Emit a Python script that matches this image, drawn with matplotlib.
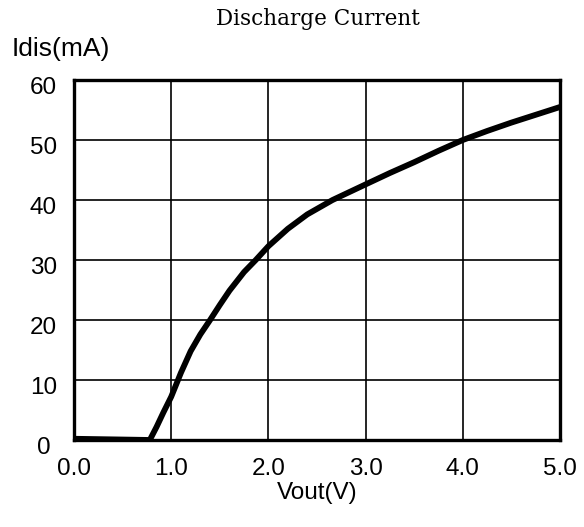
import numpy as np
import matplotlib
matplotlib.use("Agg")
import matplotlib.pyplot as plt
from matplotlib.transforms import ScaledTranslation

# discharge current vs output voltage
vout = [0.0, 0.4, 0.78, 0.85, 0.92, 1.0, 1.06, 1.1, 1.2, 1.3, 1.4, 1.5, 1.6,
        1.75, 1.87, 2.0, 2.2, 2.4, 2.66, 3.0, 3.25, 3.5, 3.75, 4.0, 4.25, 4.5, 4.75, 5.0]
idis = [0.2, 0.1, 0.0, 2.2, 4.6, 7.2, 9.6, 11.2, 14.8, 17.6, 20.0, 22.5, 24.9,
        28.0, 30.0, 32.3, 35.2, 37.6, 40.0, 42.6, 44.5, 46.3, 48.2, 50.0, 51.5, 52.9, 54.2, 55.5]

x_ticks = [0, 1, 2, 3, 4, 5]
x_labels = ["0.0", "1.0", "2.0", "3.0", "4.0", "5.0"]
y_ticks = [0, 10, 20, 30, 40, 50, 60]
y_labels = ["0", "10", "20", "30", "40", "50", "60"]

fig = plt.figure(figsize=(5.84, 5.27), dpi=100)
ax = fig.add_axes([0.1267, 0.1651, 0.8322, 0.6831])

ax.plot(vout, idis, color="black", lw=4.2, solid_capstyle="butt",
        solid_joinstyle="round", zorder=3)

ax.set_xlim(0, 5)
ax.set_ylim(0, 60)
ax.set_xticks(x_ticks)
ax.set_xticklabels(x_labels, fontsize=17.5, family="Liberation Sans")
ax.set_yticks(y_ticks)
ax.set_yticklabels(y_labels, fontsize=17.5, family="Liberation Sans", ha="center")
ax.tick_params(axis="both", length=0)
ax.tick_params(axis="x", pad=13)
ax.tick_params(axis="y", pad=22)

# push the y labels a bit below their grid lines
shift = ScaledTranslation(0, -6 / 100, fig.dpi_scale_trans)
for lbl in ax.get_yticklabels():
    lbl.set_transform(lbl.get_transform() + shift)

ax.grid(True, color="black", lw=1.2)
for s in ax.spines.values():
    s.set_linewidth(2.4)
    s.set_color("black")

fig.text(318 / 584, 1 - 19 / 527, "Discharge Current", ha="center", va="center",
         fontsize=15.5, family="DejaVu Serif")
fig.text(12 / 584, 1 - 49 / 527, "Idis(mA)", ha="left", va="center",
         fontsize=19, family="Liberation Sans")
fig.text(317 / 584, 1 - 493 / 527, "Vout(V)", ha="center", va="center",
         fontsize=17.5, family="Liberation Sans")

fig.savefig("out.png", dpi=100)
